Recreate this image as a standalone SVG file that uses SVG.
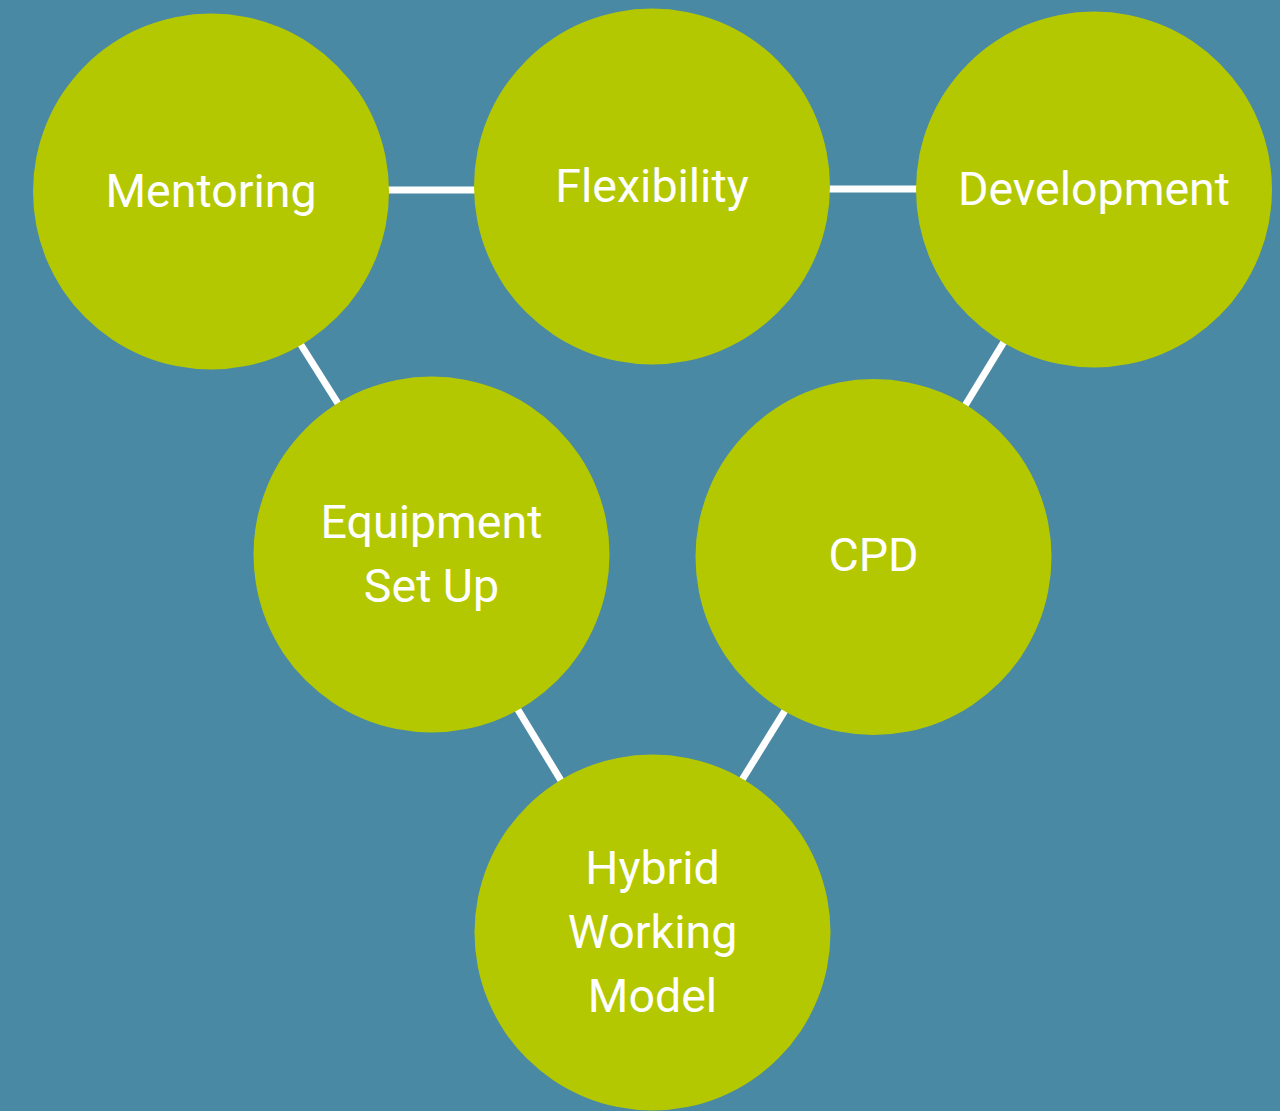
<svg xmlns="http://www.w3.org/2000/svg" width="1280" height="1111" viewBox="0 0 1280 1111">
<style>
.n{fill:#b3c800}
.t{font-family:Roboto,"Liberation Sans",sans-serif;font-size:46.5px;fill:#ffffff;text-anchor:middle}
.c{stroke:#ffffff;stroke-width:7;fill:none}
</style>
<rect width="1280" height="1111" fill="#4a89a3"/>
<g id="connectors">
<line class="c" x1="370" y1="190" x2="495" y2="190"/>
<line class="c" x1="810" y1="189" x2="935" y2="189"/>
<line class="c" x1="291" y1="329" x2="349" y2="421"/>
<line class="c" x1="1013" y1="327" x2="955" y2="422"/>
<line class="c" x1="509" y1="695" x2="571" y2="797"/>
<line class="c" x1="794" y1="696" x2="732" y2="796"/>
</g>
<g id="mentoring"><circle class="n" cx="211" cy="191.5" r="178"/><text class="t" x="211" y="207">Mentoring</text></g>
<g id="flexibility"><circle class="n" cx="652" cy="186.5" r="178"/><text class="t" x="652" y="202">Flexibility</text></g>
<g id="development"><circle class="n" cx="1094" cy="189.5" r="178"/><text class="t" x="1094" y="205">Development</text></g>
<g id="equipment"><circle class="n" cx="431.5" cy="554.5" r="178"/><text class="t" x="431.5" y="538">Equipment</text><text class="t" x="431.5" y="602">Set Up</text></g>
<g id="cpd"><circle class="n" cx="873.5" cy="557" r="178"/><text class="t" x="873.5" y="571">CPD</text></g>
<g id="hybrid"><circle class="n" cx="652.5" cy="932.5" r="178"/><text class="t" x="652.5" y="884">Hybrid</text><text class="t" x="652.5" y="948">Working</text><text class="t" x="652.5" y="1012">Model</text></g>
</svg>
